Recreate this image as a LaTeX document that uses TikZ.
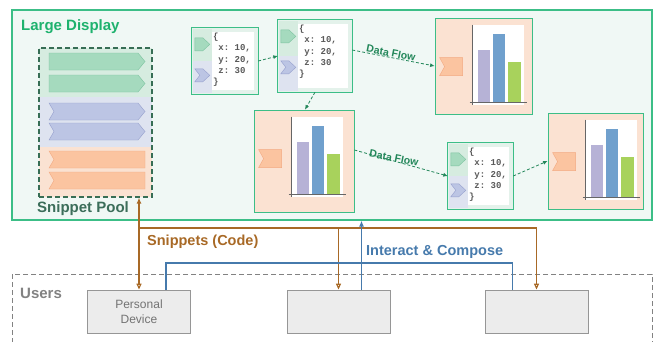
\documentclass[tikz,border=0pt]{standalone}
\usepackage{fontspec}
\setmainfont{Liberation Sans}
\setmonofont{Liberation Mono}
\usetikzlibrary{arrows.meta,calc}

\definecolor{displine}{RGB}{60,190,135}
\definecolor{dispfill}{RGB}{240,248,245}
\definecolor{disptext}{RGB}{30,178,110}
\definecolor{pooldash}{RGB}{55,110,85}
\definecolor{pooltext}{RGB}{60,110,90}
\definecolor{bandg}{RGB}{214,236,224}
\definecolor{bandb}{RGB}{222,227,240}
\definecolor{bando}{RGB}{250,226,210}
\definecolor{snipgf}{RGB}{165,218,190}
\definecolor{snipgd}{RGB}{125,195,160}
\definecolor{snipbf}{RGB}{188,197,228}
\definecolor{snipbd}{RGB}{150,160,205}
\definecolor{snipof}{RGB}{251,196,160}
\definecolor{snipod}{RGB}{242,170,130}
\definecolor{chartfill}{RGB}{251,226,210}
\definecolor{codefill}{RGB}{228,242,235}
\definecolor{barpurple}{RGB}{182,178,214}
\definecolor{barblue}{RGB}{112,160,205}
\definecolor{bargreen}{RGB}{168,210,92}
\definecolor{flowgreen}{RGB}{35,135,90}
\definecolor{snipbrown}{RGB}{168,105,38}
\definecolor{interblue}{RGB}{70,122,172}
\definecolor{devfill}{RGB}{236,236,236}
\definecolor{devline}{RGB}{150,150,150}
\definecolor{usertext}{RGB}{130,130,130}

% tab shapes: style, x, y, width, height
\newcommand{\tabright}[5]{\filldraw[#1] (#2,#3) -- (#2+#4-7,#3) -- (#2+#4,#3+#5/2) -- (#2+#4-7,#3+#5) -- (#2,#3+#5) -- cycle;}
\newcommand{\tabboth}[5]{\filldraw[#1] (#2,#3) -- (#2+#4-7,#3) -- (#2+#4,#3+#5/2) -- (#2+#4-7,#3+#5) -- (#2,#3+#5) -- (#2+5,#3+#5/2) -- cycle;}
\newcommand{\tableft}[5]{\filldraw[#1] (#2,#3) -- (#2+#4,#3) -- (#2+#4,#3+#5) -- (#2,#3+#5) -- (#2+5,#3+#5/2) -- cycle;}

\newcommand{\chartin}[1]{%
  \begin{scope}[shift={(#1.north west)}]
    \fill[white] (38,7) rectangle (89,87);
    \fill[barpurple] (43,32) rectangle (55,85);
    \fill[barblue] (58,16) rectangle (70,85);
    \fill[bargreen] (73,44) rectangle (86,85);
    \draw[black!60,line width=0.6pt] (38,7) -- (38,87) (35,85) -- (92,85);
    \tableft{fill=snipof,draw=snipod}{5}{40}{23}{18}
  \end{scope}}

\newcommand{\codein}[1]{%
  \fill[bandg] ($(#1.north west)+(1,1)$) rectangle ($(#1.west)+(20,0)$);
  \fill[bandb] ($(#1.west)+(1,0)$) rectangle ($(#1.south west)+(20,-1)$);
  \fill[white] ($(#1.north west)+(20,4)$) rectangle ($(#1.south east)+(-4,-4)$);
  \begin{scope}[shift={(#1.north west)}]
    \tabright{fill=snipgf,draw=snipgd}{3}{10}{15}{13}
    \tabboth{fill=snipbf,draw=snipbd}{3}{41}{15}{13}
    \node[codetxt] at (20,4) {\{\\\ x: 10,\\\ y: 20,\\\ z: 30\\\}};
  \end{scope}
  \draw[displine,line width=0.8pt] (#1.north west) rectangle (#1.south east);}

\begin{document}
\begin{tikzpicture}[x=1pt,y=-1pt,
	display/.style={draw=displine,fill=dispfill,line width=1.2pt,minimum width=640pt,minimum height=210pt},
	pool/.style={draw=pooldash,dashed,line width=1.1pt,dash pattern=on 5pt off 3pt,minimum width=113pt,minimum height=149pt},
	chart/.style={draw=displine,fill=chartfill,line width=0.8pt},
	codebox/.style={fill=codefill,minimum width=66pt,minimum height=66pt},
	codetxt/.style={anchor=north west,align=left,inner sep=1pt,text=black!65,font=\ttfamily\bfseries\fontsize{9}{11.3}\selectfont},
	device/.style={draw=devline,fill=devfill,line width=0.8pt,minimum width=103pt,minimum height=43pt,text=black!55,align=center,font=\fontsize{12}{15}\selectfont},
	big/.style={font=\bfseries\fontsize{15}{18}\selectfont,anchor=west,inner sep=0pt},
	flow/.style={draw=flowgreen,line width=0.8pt,dash pattern=on 3pt off 2pt,-{Latex[length=4.5pt,width=4pt]}},
	flowtxt/.style={text=flowgreen,font=\bfseries\fontsize{10.5}{12}\selectfont,rotate=-11,inner sep=0pt},
	snip/.style={draw=snipbrown,line width=1.2pt},
	inter/.style={draw=interblue,line width=1.2pt}]
\useasboundingbox (0,0) rectangle (654,341);

\node[display] (disp) at (332,115) {};
\node[big,text=disptext] (dispname) at (21,27) {Large Display};

% snippet pool
\fill[bandg] (39,48) rectangle (152,97);
\fill[bandb] (39,97) rectangle (152,147);
\fill[bando] (39,147) rectangle (152,197);
\tabright{fill=snipgf,draw=snipgd}{49}{53}{96}{17}
\tabright{fill=snipgf,draw=snipgd}{49}{75}{96}{17}
\tabboth{fill=snipbf,draw=snipbd}{49}{103}{96}{17}
\tabboth{fill=snipbf,draw=snipbd}{49}{123}{96}{17}
\tableft{fill=snipof,draw=snipod}{49}{151}{96}{17}
\tableft{fill=snipof,draw=snipod}{49}{172}{96}{17}
\node[pool] (pool) at (95.5,122.5) {};
\node[big,text=pooltext] (poolname) at (37,209) {Snippet Pool};

% code and charts
\node[codebox] (ca) at (225,61) {};
\codein{ca}
\node[codebox,minimum width=74pt,minimum height=72pt] (cb) at (315,56) {};
\codein{cb}
\node[codebox,minimum width=65pt] (cc) at (480.5,176) {};
\codein{cc}
\node[chart,minimum width=97pt,minimum height=96pt] (ch1) at (483.5,66) {};
\chartin{ch1}
\node[chart,minimum width=100pt,minimum height=102pt] (ch2) at (304,161) {};
\chartin{ch2}
\node[chart,minimum width=95pt,minimum height=96pt] (ch3) at (595.5,161) {};
\chartin{ch3}

\draw[flow] (ca.east) -- (cb.west);
\draw[flow] ($(cb.east)+(0,-6)$) -- (ch1.west);
\draw[flow] (cb.south) -- ($(ch2.north)+(1,0)$);
\draw[flow] ($(ch2.east)+(0,-11)$) -- (cc.west);
\draw[flow] (cc.east) -- (ch3.west);
\node[flowtxt] (df1) at (391,53) {Data Flow};
\node[flowtxt] (df2) at (394,158) {Data Flow};

% users
\draw[usertext,line width=0.8pt,dash pattern=on 5pt off 3pt] (12,274) rectangle (652,350);
\node[big,text=usertext] (users) at (20,293) {Users};
\node[device] (dev1) at (139,311.5) {Personal\\Device};
\node[device] (dev2) at (338.5,311.5) {};
\node[device] (dev3) at (536.5,311.5) {};

\coordinate (sj) at (139,228);
\coordinate (iy) at (0,263);
\draw[snip,-{Latex[length=6pt,width=5pt]}] (sj) -- (sj |- pool.south);
\draw[snip,-{Triangle[open,length=6pt,width=5pt]}] (sj) -- (dev1.north);
\draw[snip,-{Triangle[open,length=6pt,width=5pt]}] (sj) -| (dev3.north);
\draw[snip,-{Triangle[open,length=6pt,width=5pt]}] (sj -| dev2.north) -- (dev2.north);
\node[big,text=snipbrown,font=\bfseries\fontsize{14.5}{17}\selectfont] (sniptxt) at (147,242) {Snippets (Code)};

\coordinate (b1) at ([xshift=27pt]dev1.north);
\coordinate (b2) at ([xshift=23pt]dev2.north);
\coordinate (b3) at ([xshift=-24pt]dev3.north);
\draw[inter] (b1) |- (b3 |- iy) -- (b3);
\draw[inter,-{Latex[length=6pt,width=5pt]}] (b2) -- (b2 |- disp.south);
\node[big,text=interblue,font=\bfseries\fontsize{14.5}{17}\selectfont] (intertxt) at (366,252) {Interact \& Compose};
\end{tikzpicture}
\end{document}
